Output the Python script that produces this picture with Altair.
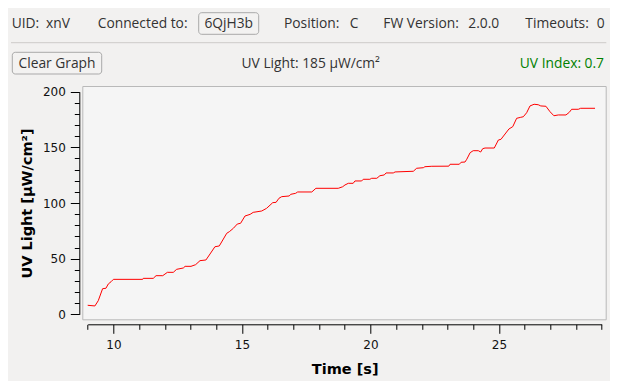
import altair as alt
import pandas as pd

# ---- data ----
time_s = [9.00, 9.28, 9.41, 9.58, 9.71, 9.80, 9.91, 10.00, 11.14, 11.16, 11.55, 11.66, 11.92,
          12.10, 12.33, 12.46, 12.72, 12.79, 13.02, 13.20, 13.37, 13.60, 13.76, 13.95, 14.12,
          14.41, 14.51, 14.67, 14.82, 14.95, 15.12, 15.32, 15.44, 15.77, 15.96, 16.20, 16.33,
          16.44, 16.55, 16.84, 16.90, 17.09, 17.17, 17.72, 17.88, 18.75, 18.92, 19.01, 19.14,
          19.33, 19.40, 19.66, 19.72, 19.98, 20.05, 20.25, 20.37, 20.54, 20.61, 20.89, 20.96,
          21.67, 21.80, 22.06, 22.12, 22.39, 23.05, 23.10, 23.46, 23.53, 23.68, 23.75, 23.88,
          24.00, 24.20, 24.29, 24.37, 24.46, 24.82, 24.98, 25.08, 25.24, 25.39, 25.54, 25.69,
          25.85, 25.95, 26.08, 26.21, 26.37, 26.53, 26.63, 26.83, 26.99, 27.14, 27.31, 27.61,
          27.74, 27.83, 28.09, 28.18, 28.74]
uv_light = [8.1, 7.5, 12.2, 23.0, 23.4, 27.2, 29.3, 31.4, 31.4, 32.3, 32.3, 34.7, 34.7,
            37.7, 37.7, 40.4, 41.6, 43.1, 43.1, 44.6, 48.2, 48.8, 54.2, 60.7, 61.4,
            72.8, 74.2, 77.3, 81.1, 81.8, 88.3, 89.8, 91.6, 92.8, 95.2, 100.3, 100.6,
            104.2, 105.7, 106.3, 107.8, 108.7, 109.9, 109.9, 113.2, 113.2, 114.6, 116.2, 117.7,
            117.7, 119.8, 119.8, 121.3, 121.3, 122.2, 122.2, 124.5, 125.2, 127.0, 127.0, 127.9,
            128.5, 131.2, 131.7, 132.6, 133.0, 133.1, 134.8, 134.8, 136.6, 136.8, 139.3, 145.2,
            147.0, 147.0, 145.8, 148.8, 149.4, 149.4, 156.6, 157.2, 162.0, 166.5, 168.6, 176.1,
            177.0, 177.5, 181.1, 187.2, 188.7, 188.3, 187.2, 186.9, 182.0, 178.4, 179.1, 179.1,
            181.5, 184.2, 184.2, 185.1, 185.1]

x_ticks = list(range(9, 30))
y_ticks = list(range(0, 201, 10))

uid_label, uid_value = "UID:", "xnV"
conn_label, conn_value = "Connected to:", "6QjH3b"
pos_label, pos_value = "Position:", "C"
fw_label, fw_value = "FW Version:", "2.0.0"
to_label, to_value = "Timeouts:", "0"
clear_text = "Clear Graph"
uv_light_text = "UV Light: 185 µW/cm²"
uv_index_text = "UV Index: 0.7"

df = pd.DataFrame({"t": time_s, "uv": uv_light})

GUI_FONT = "Open Sans"
GUI_SIZE = 13.8
GUI_COLOR = "#333333"
one = alt.Data(values=[{}])

line = alt.Chart(df).mark_line(color="#ff0000", strokeWidth=1).encode(
    x=alt.X("t:Q", title="Time [s]",
            scale=alt.Scale(domain=[9, 29], range=[5.4, 519.4], nice=False, zero=False),
            axis=alt.Axis(values=x_ticks, offset=5,
                          labelExpr="datum.value % 5 == 0 ? datum.label : ''",
                          tickSize={"condition": {"test": "datum.value % 5 == 0", "value": 9}, "value": 5},
                          labelPadding=6, titlePadding=12)),
    y=alt.Y("uv:Q", title="UV Light [µW/cm²]",
            scale=alt.Scale(domain=[0, 200], range=[228.3, 5.7], nice=False),
            axis=alt.Axis(values=y_ticks, offset=3,
                          labelExpr="datum.value % 50 == 0 ? datum.label : ''",
                          tickSize={"condition": {"test": "datum.value % 50 == 0", "value": 9}, "value": 5},
                          labelPadding=5, titlePadding=8)),
)


def txt(s, x, y, align="left", color=GUI_COLOR):
    return alt.Chart(one).mark_text(align=align, baseline="alphabetic", font=GUI_FONT,
                                    fontSize=GUI_SIZE, color=color).encode(
        x=alt.value(x), y=alt.value(y), text=alt.value(s))


def button(x1, x2, y1, y2):
    return alt.Chart(one).mark_rect(fill="#f3f2f1", stroke="#a9a9a9", strokeWidth=1,
                                    cornerRadius=3).encode(
        x=alt.value(x1), x2=alt.value(x2), y=alt.value(y1), y2=alt.value(y2))


OX, OY = 82.3, 86.0  # plot origin on the page
R1 = 28.3 - OY
R2 = 68.3 - OY

sep = alt.Chart(one).mark_rule(color="#cdcbc9", strokeWidth=1).encode(
    x=alt.value(11 - OX), x2=alt.value(606.3 - OX), y=alt.value(42.7 - OY))

layers = [
    line,
    txt(uid_label, 11.7 - OX, R1),
    txt(uid_value, 46 - OX, R1),
    txt(conn_label, 97.7 - OX, R1),
    button(198.7 - OX, 258.7 - OX, 12.7 - OY, 34.3 - OY),
    txt(conn_value, 228.7 - OX, R1, align="center"),
    txt(pos_label, 284 - OX, R1),
    txt(pos_value, 349.7 - OX, R1),
    txt(fw_label, 383.3 - OX, R1),
    txt(fw_value, 468.3 - OX, R1),
    txt(to_label, 525.3 - OX, R1),
    txt(to_value, 596.7 - OX, R1),
    sep,
    button(12.3 - OX, 101.7 - OX, 52.3 - OY, 74 - OY),
    txt(clear_text, 57 - OX, R2, align="center"),
    txt(uv_light_text, 310.7 - OX, R2, align="center"),
    txt(uv_index_text, 604 - OX, R2, align="right", color="#008000"),
]

chart = alt.layer(*layers).properties(
    width=523.4, height=233.3,
    autosize=alt.AutoSizeParams(type="none"),
    padding={"left": 74.3, "top": 78, "right": 4.3, "bottom": 61.7},
    background="#f2f1f0",
).configure_view(
    fill="#f5f5f5", stroke="#b9b9b9", strokeWidth=1
).configure_axis(
    grid=False, domainColor="#000000", tickColor="#000000", domainWidth=1, tickWidth=1,
    labelFont="DejaVu Sans", labelFontSize=12, labelColor="#111111",
    titleFont="DejaVu Sans", titleFontSize=14.5, titleFontWeight="bold", titleColor="#000000",
)

chart.save("out.html", embed_options={"renderer": "svg", "actions": False})
